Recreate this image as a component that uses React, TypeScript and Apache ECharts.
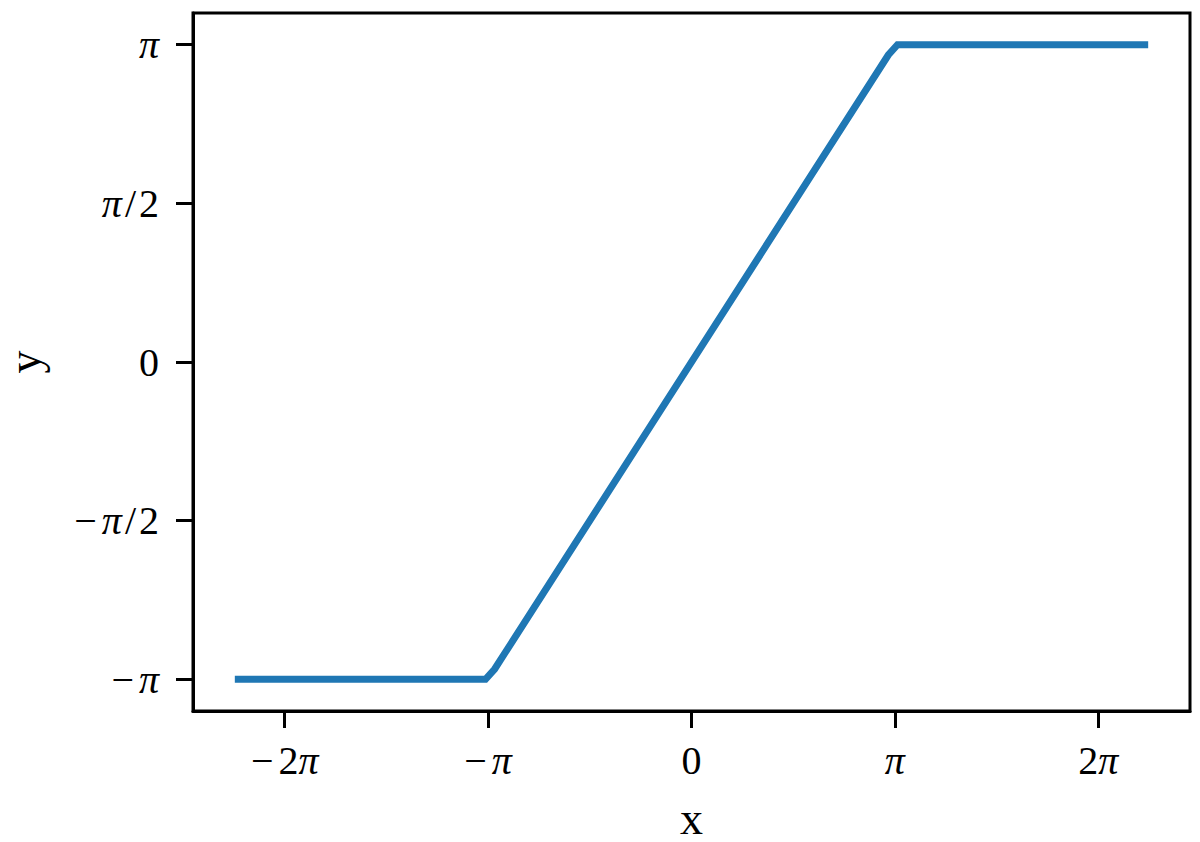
import React, { useEffect, useRef } from "react";
import * as echarts from "echarts";

const PI = Math.PI;
// vertices of the plotted (clipped) curve
const xValues = [-7, -3.182, -3.04, 3.04, 3.182, 7];
const yValues = [-PI, -PI, -3.04, 3.04, PI, PI];

const xTickValues = [-2 * PI, -PI, 0, PI, 2 * PI];
const xTickLabels = ["{m|−}{n|2}{p|π}", "{m|−}{p|π}", "{n|0}", "{p|π}", "{n|2}{p|π}"];
const yTickValues = [-PI, -PI / 2, 0, PI / 2, PI];
const yTickLabels = ["{m|−}{p|π}", "{m|−}{p|π}{s|/}{n|2}", "{n|0}", "{p|π}{s|/}{n|2}", "{p|π}"];

const FONT = "'Liberation Serif', 'DejaVu Serif', serif";

export default function App() {
  const ref = useRef<HTMLDivElement>(null);
  useEffect(() => {
    const chart = echarts.init(ref.current!, null, { renderer: "svg" });
    const FS = 40;
    const rich = {
      n: { fontFamily: FONT, fontSize: FS, color: "#000" },
      m: { fontFamily: FONT, fontSize: FS, color: "#000", padding: [0, 5, 0, 0] },
      s: { fontFamily: FONT, fontSize: FS, color: "#000", padding: [0, 3, 0, 3] },
      p: { fontFamily: FONT, fontSize: FS, fontStyle: "italic", color: "#000" },
    };
    const fmt = (vals: number[], labels: string[]) => (v: number) => {
      const i = vals.findIndex((t) => Math.abs(t - v) < 1e-6);
      return i >= 0 ? labels[i] : "";
    };
    chart.setOption({
      animation: false,
      grid: {
        left: 193,
        top: 13,
        right: 10,
        bottom: 131,
        show: true,
        borderColor: "#000",
        borderWidth: 3,
        backgroundColor: "transparent",
        containLabel: false,
        outerBoundsMode: "none",
      },
      xAxis: {
        type: "value",
        min: -7.7,
        max: 7.7,
        name: "x",
        nameLocation: "middle",
        nameGap: 90,
        nameTextStyle: { fontFamily: FONT, fontSize: 46, lineHeight: 34, color: "#000" },
        axisLine: { show: true, onZero: false, lineStyle: { color: "#000", width: 3 } },
        axisTick: {
          show: true,
          length: 17,
          lineStyle: { color: "#000", width: 3 },
          customValues: xTickValues,
        },
        axisLabel: {
          margin: 29,
          customValues: xTickValues,
          formatter: fmt(xTickValues, xTickLabels),
          rich,
        },
        splitLine: { show: false },
      },
      yAxis: {
        type: "value",
        min: -1.1 * PI,
        max: 1.1 * PI,
        name: "y",
        nameLocation: "middle",
        nameGap: 154,
        nameTextStyle: { fontFamily: FONT, fontSize: 46, lineHeight: 30, color: "#000" },
        axisLine: { show: true, onZero: false, lineStyle: { color: "#000", width: 3 } },
        axisTick: {
          show: true,
          length: 17,
          lineStyle: { color: "#000", width: 3 },
          customValues: yTickValues,
        },
        axisLabel: {
          margin: 34,
          customValues: yTickValues,
          formatter: fmt(yTickValues, yTickLabels),
          rich,
        },
        splitLine: { show: false },
      },
      series: [
        {
          type: "line",
          data: xValues.map((x, i) => [x, yValues[i]]),
          showSymbol: false,
          symbol: "none",
          lineStyle: { color: "#1f77b4", width: 7, cap: "square", join: "miter" },
        },
      ],
    });
    return () => chart.dispose();
  }, []);
  return (
    <div
      ref={ref}
      style={{ position: "fixed", left: 0, top: 0, width: 1200, height: 842, background: "#fff" }}
    />
  );
}
